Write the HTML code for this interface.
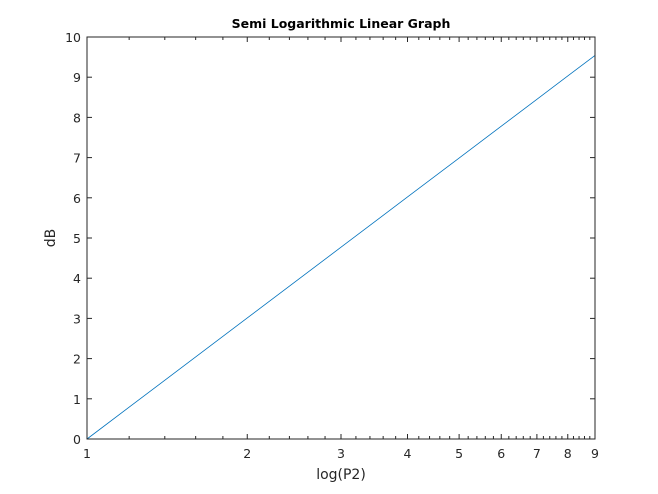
<!DOCTYPE html>
<html><head><meta charset="utf-8"><style>
body{margin:0;background:#fff}
svg{display:block;font-family:"DejaVu Sans","Liberation Sans",sans-serif}
</style></head><body>
<svg id="chart" width="658" height="494" viewBox="0 0 658 494">
<rect x="0" y="0" width="658" height="494" fill="#fff"/>
<rect x="87" y="37" width="508" height="402" fill="#fff"/>
<g id="ticks"></g>
<g id="series"></g>
<rect x="87" y="37" width="508" height="402" fill="none" stroke="#262626" stroke-width="1"/>
<text x="341" y="28" text-anchor="middle" font-size="12.5" font-weight="bold" fill="#000">Semi Logarithmic Linear Graph</text>
<text x="341" y="479" text-anchor="middle" font-size="14" fill="#262626">log(P2)</text>
<text x="55" y="238" text-anchor="middle" font-size="14" fill="#262626" transform="rotate(-90 55 238)">dB</text>
</svg>
<script>
const xTicks = [1,2,3,4,5,6,7,8,9];
const yTicks = [0,1,2,3,4,5,6,7,8,9,10];
const xValues = [1,2,3,4,5,6,7,8,9];
const yValues = [0,3.0103,4.7712,6.0206,6.9897,7.7815,8.4510,9.0309,9.5424];
const L=87,R=595,T=37,B=439;
const xs=v=>L+Math.log(v)/Math.log(9)*(R-L);
const ys=v=>B-v/10*(B-T);
const NS="http://www.w3.org/2000/svg";
const tg=document.getElementById('ticks'), sg=document.getElementById('series');
function line(x1,y1,x2,y2,name){const l=document.createElementNS(NS,'line');
l.setAttribute('x1',x1);l.setAttribute('y1',y1);l.setAttribute('x2',x2);l.setAttribute('y2',y2);
l.setAttribute('stroke','#262626');l.setAttribute('stroke-width','1');


tg.appendChild(l);}
function txt(x,y,s,anchor,name){const t=document.createElementNS(NS,'text');
t.setAttribute('x',x);t.setAttribute('y',y);t.setAttribute('text-anchor',anchor);
t.setAttribute('font-size','12.5');t.setAttribute('fill','#262626');t.textContent=s;


tg.appendChild(t);}
xTicks.forEach(v=>{const x=xs(v);line(x,B,x,B-5,'x-tick');line(x,T,x,T+5,'x-tick-top');txt(x,B+19,String(v),'middle','x-tick-label');
 if(v<9){for(let m=v+0.2;m<v+0.99;m+=0.2){const xm=xs(m);line(xm,B,xm,B-3,'x-minor-tick');line(xm,T,xm,T+3,'x-minor-tick-top');}}});
yTicks.forEach(v=>{const y=ys(v);line(L,y,L+5,y,'y-tick');line(R,y,R-5,y,'y-tick-right');txt(L-6,y+5,String(v),'end','y-tick-label');});
const p=document.createElementNS(NS,'polyline');
let pts=[];for(let i=0;i<xValues.length;i++){pts.push(xs(xValues[i]).toFixed(2)+','+ys(yValues[i]).toFixed(2));}
p.setAttribute('points',pts.join(' '));p.setAttribute('fill','none');p.setAttribute('stroke','#0072BD');p.setAttribute('stroke-width','0.8');


sg.appendChild(p);
</script>
</body></html>
